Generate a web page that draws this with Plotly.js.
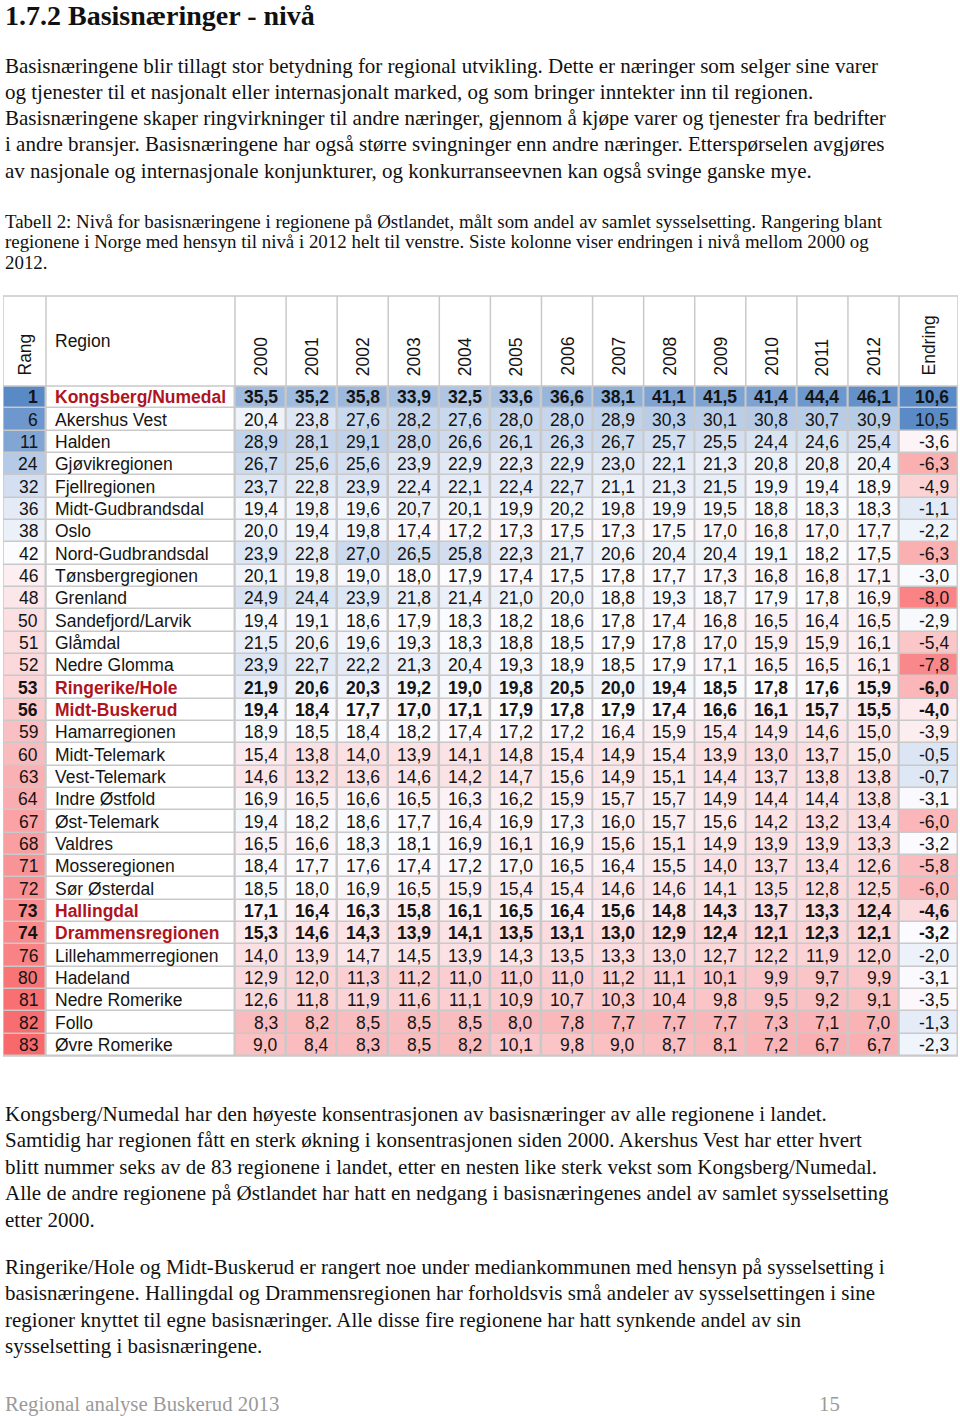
<!DOCTYPE html>
<html>
<head>
<meta charset="utf-8">
<script src="https://cdn.plot.ly/plotly-3.0.1.min.js"></script>
<style>
  html, body { margin: 0; padding: 0; background: #ffffff; }
  #page { position: relative; width: 960px; height: 1416px; overflow: hidden; background: #fff; }
  .ln { position: absolute; left: 5px; white-space: nowrap; font-family: "Liberation Serif", "Times New Roman", serif; color: #111; }
  #chart { position: absolute; left: 0; top: 294px; width: 960px; height: 766px; }
</style>
</head>
<body>
<div id="page">
  <div id="chart"></div>
</div>
<script>
// ---------------- DATA ----------------
const ranks = [1, 6, 11, 24, 32, 36, 38, 42, 46, 48, 50, 51, 52, 53, 56, 59, 60, 63, 64, 67, 68, 71, 72, 73, 74, 76, 80, 81, 82, 83];
const regions = ["Kongsberg/Numedal", "Akershus Vest", "Halden", "Gjøvikregionen", "Fjellregionen", "Midt-Gudbrandsdal", "Oslo", "Nord-Gudbrandsdal", "Tønsbergregionen", "Grenland", "Sandefjord/Larvik", "Glåmdal", "Nedre Glomma", "Ringerike/Hole", "Midt-Buskerud", "Hamarregionen", "Midt-Telemark", "Vest-Telemark", "Indre Østfold", "Øst-Telemark", "Valdres", "Mosseregionen", "Sør Østerdal", "Hallingdal", "Drammensregionen", "Lillehammerregionen", "Hadeland", "Nedre Romerike", "Follo", "Øvre Romerike"];
const highlighted = ["Kongsberg/Numedal", "Ringerike/Hole", "Midt-Buskerud", "Hallingdal", "Drammensregionen"];
const years = ["2000", "2001", "2002", "2003", "2004", "2005", "2006", "2007", "2008", "2009", "2010", "2011", "2012"];

const y2000 = [35.5, 20.4, 28.9, 26.7, 23.7, 19.4, 20.0, 23.9, 20.1, 24.9, 19.4, 21.5, 23.9, 21.9, 19.4, 18.9, 15.4, 14.6, 16.9, 19.4, 16.5, 18.4, 18.5, 17.1, 15.3, 14.0, 12.9, 12.6, 8.3, 9.0];
const y2001 = [35.2, 23.8, 28.1, 25.6, 22.8, 19.8, 19.4, 22.8, 19.8, 24.4, 19.1, 20.6, 22.7, 20.6, 18.4, 18.5, 13.8, 13.2, 16.5, 18.2, 16.6, 17.7, 18.0, 16.4, 14.6, 13.9, 12.0, 11.8, 8.2, 8.4];
const y2002 = [35.8, 27.6, 29.1, 25.6, 23.9, 19.6, 19.8, 27.0, 19.0, 23.9, 18.6, 19.6, 22.2, 20.3, 17.7, 18.4, 14.0, 13.6, 16.6, 18.6, 18.3, 17.6, 16.9, 16.3, 14.3, 14.7, 11.3, 11.9, 8.5, 8.3];
const y2003 = [33.9, 28.2, 28.0, 23.9, 22.4, 20.7, 17.4, 26.5, 18.0, 21.8, 17.9, 19.3, 21.3, 19.2, 17.0, 18.2, 13.9, 14.6, 16.5, 17.7, 18.1, 17.4, 16.5, 15.8, 13.9, 14.5, 11.2, 11.6, 8.5, 8.5];
const y2004 = [32.5, 27.6, 26.6, 22.9, 22.1, 20.1, 17.2, 25.8, 17.9, 21.4, 18.3, 18.3, 20.4, 19.0, 17.1, 17.4, 14.1, 14.2, 16.3, 16.4, 16.9, 17.2, 15.9, 16.1, 14.1, 13.9, 11.0, 11.1, 8.5, 8.2];
const y2005 = [33.6, 28.0, 26.1, 22.3, 22.4, 19.9, 17.3, 22.3, 17.4, 21.0, 18.2, 18.8, 19.3, 19.8, 17.9, 17.2, 14.8, 14.7, 16.2, 16.9, 16.1, 17.0, 15.4, 16.5, 13.5, 14.3, 11.0, 10.9, 8.0, 10.1];
const y2006 = [36.6, 28.0, 26.3, 22.9, 22.7, 20.2, 17.5, 21.7, 17.5, 20.0, 18.6, 18.5, 18.9, 20.5, 17.8, 17.2, 15.4, 15.6, 15.9, 17.3, 16.9, 16.5, 15.4, 16.4, 13.1, 13.5, 11.0, 10.7, 7.8, 9.8];
const y2007 = [38.1, 28.9, 26.7, 23.0, 21.1, 19.8, 17.3, 20.6, 17.8, 18.8, 17.8, 17.9, 18.5, 20.0, 17.9, 16.4, 14.9, 14.9, 15.7, 16.0, 15.6, 16.4, 14.6, 15.6, 13.0, 13.3, 11.2, 10.3, 7.7, 9.0];
const y2008 = [41.1, 30.3, 25.7, 22.1, 21.3, 19.9, 17.5, 20.4, 17.7, 19.3, 17.4, 17.8, 17.9, 19.4, 17.4, 15.9, 15.4, 15.1, 15.7, 15.7, 15.1, 15.5, 14.6, 14.8, 12.9, 13.0, 11.1, 10.4, 7.7, 8.7];
const y2009 = [41.5, 30.1, 25.5, 21.3, 21.5, 19.5, 17.0, 20.4, 17.3, 18.7, 16.8, 17.0, 17.1, 18.5, 16.6, 15.4, 13.9, 14.4, 14.9, 15.6, 14.9, 14.0, 14.1, 14.3, 12.4, 12.7, 10.1, 9.8, 7.7, 8.1];
const y2010 = [41.4, 30.8, 24.4, 20.8, 19.9, 18.8, 16.8, 19.1, 16.8, 17.9, 16.5, 15.9, 16.5, 17.8, 16.1, 14.9, 13.0, 13.7, 14.4, 14.2, 13.9, 13.7, 13.5, 13.7, 12.1, 12.2, 9.9, 9.5, 7.3, 7.2];
const y2011 = [44.4, 30.7, 24.6, 20.8, 19.4, 18.3, 17.0, 18.2, 16.8, 17.8, 16.4, 15.9, 16.5, 17.6, 15.7, 14.6, 13.7, 13.8, 14.4, 13.2, 13.9, 13.4, 12.8, 13.3, 12.3, 11.9, 9.7, 9.2, 7.1, 6.7];
const y2012 = [46.1, 30.9, 25.4, 20.4, 18.9, 18.3, 17.7, 17.5, 17.1, 16.9, 16.5, 16.1, 16.1, 15.9, 15.5, 15.0, 15.0, 13.8, 13.8, 13.4, 13.3, 12.6, 12.5, 12.4, 12.1, 12.0, 9.9, 9.1, 7.0, 6.7];
const endring = [10.6, 10.5, -3.6, -6.3, -4.9, -1.1, -2.2, -6.3, -3.0, -8.0, -2.9, -5.4, -7.8, -6.0, -4.0, -3.9, -0.5, -0.7, -3.1, -6.0, -3.2, -5.8, -6.0, -4.6, -3.2, -2.0, -3.1, -3.5, -1.3, -2.3];

const yearCols = [y2000, y2001, y2002, y2003, y2004, y2005, y2006, y2007, y2008, y2009, y2010, y2011, y2012];

// ---------------- PROSE ----------------
const prose = [
  ["1.7.2 Basisnæringer - nivå", 14, 28, true, "#111"],
  ["Basisnæringene blir tillagt stor betydning for regional utvikling. Dette er næringer som selger sine varer", 66, 21],
  ["og tjenester til et nasjonalt eller internasjonalt marked, og som bringer inntekter inn til regionen.", 92, 21],
  ["Basisnæringene skaper ringvirkninger til andre næringer, gjennom å kjøpe varer og tjenester fra bedrifter", 118, 21],
  ["i andre bransjer. Basisnæringene har også større svingninger enn andre næringer. Etterspørselen avgjøres", 144, 21],
  ["av nasjonale og internasjonale konjunkturer, og konkurranseevnen kan også svinge ganske mye.", 171, 21],
  ["Tabell 2: Nivå for basisnæringene i regionene på Østlandet, målt som andel av samlet sysselsetting. Rangering blant", 221, 18.9],
  ["regionene i Norge med hensyn til nivå i 2012 helt til venstre. Siste kolonne viser endringen i nivå mellom 2000 og", 241, 18.9],
  ["2012.", 262, 18.9],
  ["Kongsberg/Numedal har den høyeste konsentrasjonen av basisnæringer av alle regionene i landet.", 1114, 21],
  ["Samtidig har regionen fått en sterk økning i konsentrasjonen siden 2000. Akershus Vest har etter hvert", 1140, 21],
  ["blitt nummer seks av de 83 regionene i landet, etter en nesten like sterk vekst som Kongsberg/Numedal.", 1167, 21],
  ["Alle de andre regionene på Østlandet har hatt en nedgang i basisnæringenes andel av samlet sysselsetting", 1193, 21],
  ["etter 2000.", 1220, 21],
  ["Ringerike/Hole og Midt-Buskerud er rangert noe under mediankommunen med hensyn på sysselsetting i", 1267, 21],
  ["basisnæringene. Hallingdal og Drammensregionen har forholdsvis små andeler av sysselsettingen i sine", 1293, 21],
  ["regioner knyttet til egne basisnæringer. Alle disse fire regionene har hatt synkende andel av sin", 1320, 21],
  ["sysselsetting i basisnæringene.", 1346, 21],
  ["Regional analyse Buskerud 2013", 1403, 20.8, false, "#9a9a9a"]
];
const page = document.getElementById('page');
prose.forEach(function (p) {
  const d = document.createElement('div');
  d.className = 'ln';
  d.textContent = p[0];
  const h = Math.round(p[2] * 1.12);
  d.style.fontSize = p[2] + 'px';
  d.style.lineHeight = h + 'px';
  d.style.top = Math.max(0, p[1] - h / 2) + 'px';
  if (p[3]) d.style.fontWeight = 'bold';
  if (p[4]) d.style.color = p[4];
  page.appendChild(d);
});
const pn = document.createElement('div');
pn.className = 'ln';
pn.textContent = '15';
pn.style.left = '819px';
pn.style.fontSize = '20.8px';
pn.style.lineHeight = '23px';
pn.style.top = (1403 - 11.5) + 'px';
pn.style.color = '#9a9a9a';
page.appendChild(pn);

// ---------------- TABLE LAYOUT ----------------
const tableLeft = 3, rangRight = 46, regionRight = 235, yearW = 51.08, endRight = 958;
const headerH = 92, rowsH = 670, bottomPad = 4;
const yearEdges = [];
for (let k = 0; k <= years.length; k++) yearEdges.push(regionRight + k * yearW);
const yearsRight = yearEdges[yearEdges.length - 1];

const BLUE = '#5A8AC6', WHITE = '#FCFCFF', RED = '#F8696B';
const fmt = v => v.toFixed(1).replace('.', ',');
const isHi = r => highlighted.indexOf(r) >= 0;
const bold = (s, r) => isHi(r) ? '<b>' + s + '</b>' : s;

const zYears = regions.map((r, i) => yearCols.map(col => col[i]));
const yLevelMin = -4, yLevelMid = 18, yLevelMax = 48;
const endMin = -9, endMid = -3.3, endMax = 10.6;

const common = { type: 'heatmap', y: regions.map((r, i) => i), xgap: 1.5, ygap: 1.5, showscale: false, hoverinfo: 'skip' };

const traces = [
  Object.assign({}, common, {
    x: [tableLeft, rangRight], z: ranks.map(v => [v]),
    zmin: 1, zmax: 83, colorscale: [[0, BLUE], [0.5, WHITE], [1, RED]]
  }),
  Object.assign({}, common, {
    x: [rangRight, regionRight], z: regions.map(() => [0]),
    zmin: 0, zmax: 1, colorscale: [[0, '#ffffff'], [1, '#ffffff']]
  }),
  Object.assign({}, common, {
    x: yearEdges, z: zYears,
    zmin: yLevelMin, zmax: yLevelMax,
    colorscale: [[0, RED], [(yLevelMid - yLevelMin) / (yLevelMax - yLevelMin), WHITE], [1, BLUE]]
  }),
  Object.assign({}, common, {
    x: [yearsRight, endRight], z: endring.map(v => [v]),
    zmin: endMin, zmax: endMax,
    colorscale: [[0, RED], [(endMid - endMin) / (endMax - endMin), WHITE], [1, BLUE]]
  })
];

const FONT = '"Liberation Sans", Arial, Helvetica, sans-serif';
const TXT = '#141414', HIRED = '#B0141E';
const fs = 17.5;
const annotations = [];
const pad = 6.5;
regions.forEach(function (r, i) {
  annotations.push({ x: rangRight - pad, y: i, xref: 'x', yref: 'y', xanchor: 'right', yanchor: 'middle', showarrow: false,
    text: bold(String(ranks[i]), r), font: { family: FONT, size: fs, color: TXT } });
  annotations.push({ x: rangRight + 7, y: i, xref: 'x', yref: 'y', xanchor: 'left', yanchor: 'middle', showarrow: false,
    text: bold(r, r), font: { family: FONT, size: fs, color: isHi(r) ? HIRED : TXT } });
  yearCols.forEach(function (col, k) {
    annotations.push({ x: yearEdges[k + 1] - pad, y: i, xref: 'x', yref: 'y', xanchor: 'right', yanchor: 'middle', showarrow: false,
      text: bold(fmt(col[i]), r), font: { family: FONT, size: fs, color: TXT } });
  });
  annotations.push({ x: endRight - pad - 1, y: i, xref: 'x', yref: 'y', xanchor: 'right', yanchor: 'middle', showarrow: false,
    text: bold(fmt(endring[i]), r), font: { family: FONT, size: fs, color: TXT } });
});

// header labels
const pyPix = px => 1 + px / rowsH; // pixels above the first row -> paper y
annotations.push({ x: (tableLeft + rangRight) / 2, y: pyPix(8), xref: 'x', yref: 'paper', xanchor: 'center', yanchor: 'bottom',
  textangle: -90, showarrow: false, text: 'Rang', font: { family: FONT, size: fs, color: TXT } });
annotations.push({ x: rangRight + 7, y: pyPix(45), xref: 'x', yref: 'paper', xanchor: 'left', yanchor: 'middle',
  showarrow: false, text: 'Region', font: { family: FONT, size: fs, color: TXT } });
years.forEach(function (yr, k) {
  annotations.push({ x: (yearEdges[k] + yearEdges[k + 1]) / 2, y: pyPix(8), xref: 'x', yref: 'paper', xanchor: 'center', yanchor: 'bottom',
    textangle: -90, showarrow: false, text: yr, font: { family: FONT, size: fs, color: TXT } });
});
annotations.push({ x: (yearsRight + endRight) / 2, y: pyPix(8), xref: 'x', yref: 'paper', xanchor: 'center', yanchor: 'bottom',
  textangle: -90, showarrow: false, text: 'Endring', font: { family: FONT, size: fs, color: TXT } });

// grid lines in header + outer border
const GRID = '#c9c9c9';
const headTop = pyPix(90);
const shapes = [];
[tableLeft, rangRight, regionRight].concat(yearEdges.slice(1), [endRight]).forEach(function (xe) {
  shapes.push({ type: 'line', xref: 'x', yref: 'paper', x0: xe, x1: xe, y0: 0, y1: headTop, line: { color: GRID, width: 1.5 } });
});
shapes.push({ type: 'line', xref: 'x', yref: 'paper', x0: tableLeft, x1: endRight, y0: headTop, y1: headTop, line: { color: GRID, width: 1.5 } });
shapes.push({ type: 'line', xref: 'x', yref: 'paper', x0: tableLeft, x1: endRight, y0: 1, y1: 1, line: { color: GRID, width: 1.5 } });
shapes.push({ type: 'line', xref: 'x', yref: 'paper', x0: tableLeft, x1: endRight, y0: 0, y1: 0, line: { color: GRID, width: 1.5 } });

const layout = {
  width: 960, height: headerH + rowsH + bottomPad,
  margin: { l: tableLeft, r: 960 - endRight, t: headerH, b: bottomPad, pad: 0 },
  paper_bgcolor: 'rgba(0,0,0,0)', plot_bgcolor: GRID,
  showlegend: false,
  xaxis: { range: [tableLeft, endRight], showgrid: false, zeroline: false, showticklabels: false, ticks: '', fixedrange: true },
  yaxis: { range: [regions.length - 0.5, -0.5], showgrid: false, zeroline: false, showticklabels: false, ticks: '', fixedrange: true },
  annotations: annotations,
  shapes: shapes
};

Plotly.newPlot('chart', traces, layout, { staticPlot: true, displayModeBar: false });
</script>
</body>
</html>
